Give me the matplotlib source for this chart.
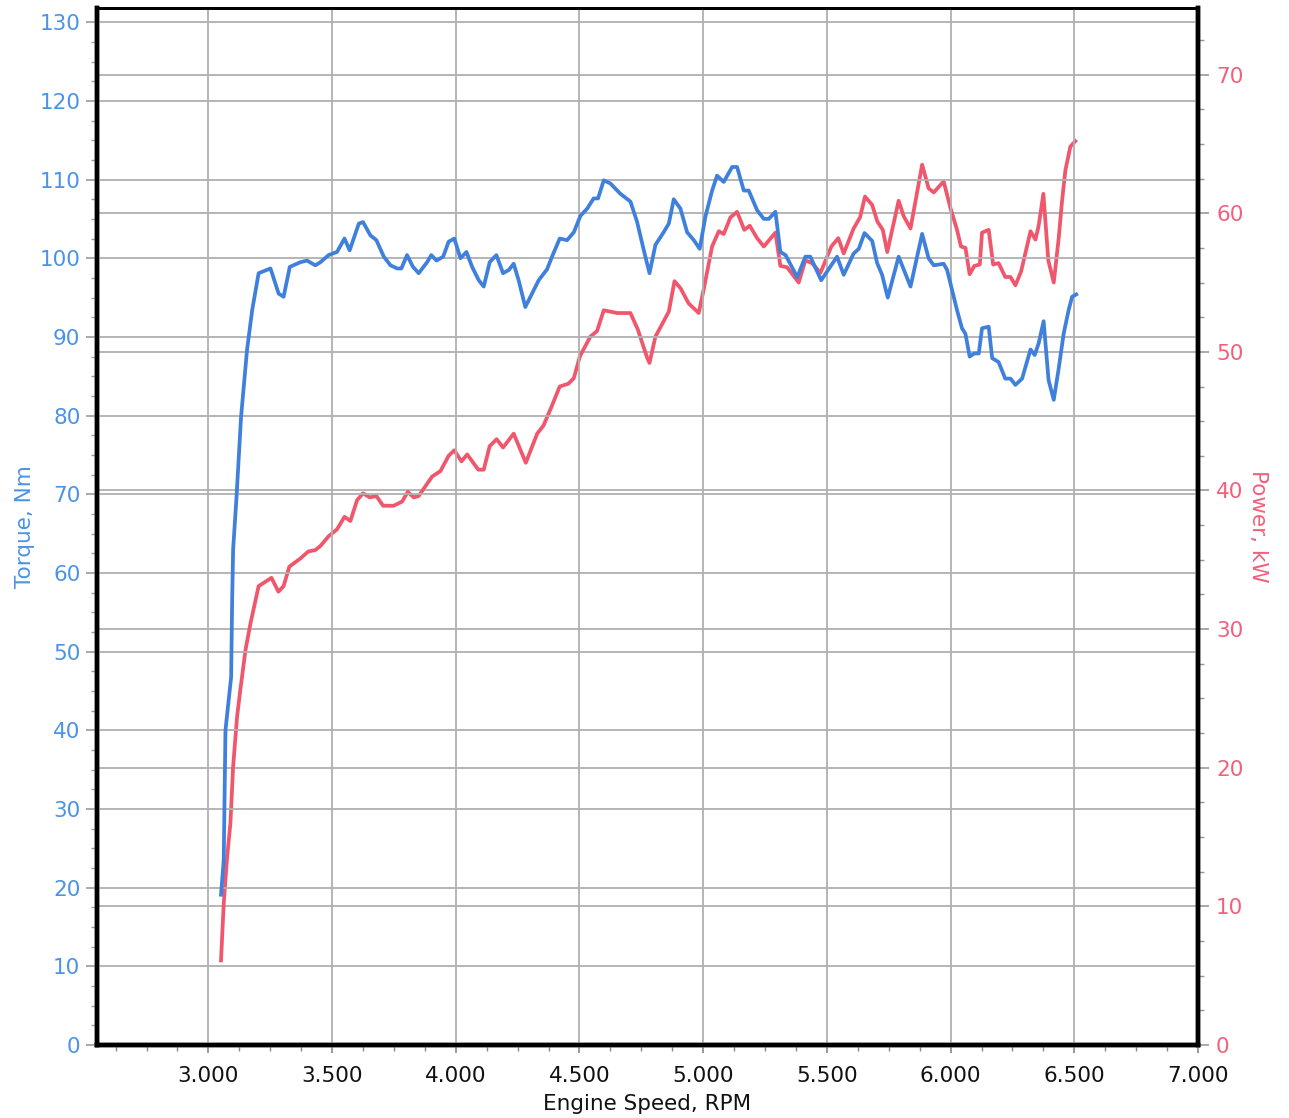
import numpy as np
import matplotlib
matplotlib.use("Agg")
import matplotlib.pyplot as plt
from matplotlib.ticker import MultipleLocator, FuncFormatter

# dyno run: engine speed (RPM) vs torque (Nm)
rpm_torque = [3051, 3062, 3069, 3092, 3096, 3100, 3113, 3132, 3156, 3177, 3203, 3251, 3284, 3304,
              3329, 3372, 3399, 3432, 3453, 3486, 3520, 3550, 3571, 3608, 3625, 3655, 3679, 3709,
              3736, 3763, 3780, 3803, 3827, 3850, 3884, 3901, 3922, 3949, 3971, 3994, 4019, 4043,
              4066, 4093, 4113, 4137, 4164, 4191, 4214, 4234, 4254, 4281, 4308, 4335, 4369, 4389,
              4420, 4450, 4477, 4504, 4531, 4557, 4575, 4598, 4625, 4665, 4706, 4733, 4760, 4783,
              4807, 4840, 4861, 4881, 4908, 4935, 4962, 4986, 5009, 5036, 5056, 5083, 5117, 5137,
              5164, 5184, 5218, 5245, 5265, 5292, 5312, 5333, 5380, 5413, 5433, 5477, 5541, 5568,
              5608, 5629, 5652, 5683, 5703, 5723, 5746, 5790, 5838, 5885, 5911, 5932, 5972, 5986,
              6026, 6046, 6060, 6077, 6096, 6114, 6127, 6154, 6168, 6194, 6221, 6242, 6262, 6289,
              6323, 6340, 6356, 6376, 6396, 6417, 6437, 6457, 6477, 6491, 6508]
torque = [19.1, 23.5, 40.0, 46.8, 56.5, 63.0, 69.3, 79.8, 88.3, 93.4, 98.1, 98.7, 95.5, 95.1,
          98.9, 99.5, 99.7, 99.1, 99.5, 100.4, 100.8, 102.5, 101.0, 104.4, 104.6, 102.9, 102.3, 100.2,
          99.1, 98.7, 98.7, 100.4, 98.9, 98.1, 99.5, 100.4, 99.7, 100.2, 102.1, 102.5, 100.0, 100.8,
          98.9, 97.2, 96.4, 99.5, 100.4, 98.1, 98.5, 99.3, 97.2, 93.8, 95.5, 97.2, 98.6, 100.2,
          102.5, 102.3, 103.3, 105.4, 106.3, 107.6, 107.6, 109.9, 109.5, 108.2, 107.2, 104.6, 101.0, 98.1,
          101.7, 103.3, 104.4, 107.5, 106.3, 103.3, 102.3, 101.2, 105.3, 108.6, 110.5, 109.7, 111.6, 111.6,
          108.6, 108.6, 106.1, 105.0, 105.0, 105.9, 100.8, 100.4, 97.6, 100.2, 100.2, 97.2, 100.2, 97.9,
          100.6, 101.2, 103.2, 102.2, 99.4, 97.9, 95.0, 100.2, 96.4, 103.1, 100.0, 99.1, 99.3, 98.5,
          93.4, 91.1, 90.4, 87.5, 87.9, 87.9, 91.1, 91.3, 87.3, 86.8, 84.7, 84.7, 83.9, 84.7,
          88.4, 87.7, 89.2, 92.0, 84.5, 82.0, 86.0, 90.4, 93.4, 95.1, 95.4]

# same run: engine speed (RPM) vs power (kW)
rpm_power = [3051, 3062, 3076, 3089, 3100, 3116, 3129, 3150, 3170, 3203, 3255, 3283, 3304, 3327,
             3372, 3404, 3432, 3453, 3486, 3520, 3550, 3574, 3601, 3625, 3652, 3679, 3706, 3749,
             3783, 3806, 3830, 3850, 3904, 3938, 3971, 3994, 4023, 4046, 4091, 4113, 4137, 4165,
             4191, 4234, 4283, 4329, 4355, 4386, 4420, 4455, 4477, 4502, 4544, 4571, 4598, 4652,
             4706, 4736, 4773, 4783, 4807, 4840, 4861, 4884, 4908, 4941, 4982, 5002, 5036, 5063,
             5083, 5110, 5137, 5166, 5188, 5218, 5245, 5292, 5312, 5339, 5386, 5413, 5440, 5474,
             5518, 5546, 5568, 5608, 5634, 5654, 5683, 5704, 5726, 5744, 5790, 5810, 5838, 5885,
             5911, 5932, 5972, 5999, 6026, 6042, 6060, 6077, 6096, 6118, 6127, 6154, 6172, 6194,
             6221, 6242, 6262, 6285, 6323, 6343, 6356, 6375, 6395, 6417, 6437, 6450, 6464, 6484,
             6504]
power = [6.1, 10.2, 13.6, 16.0, 20.1, 23.7, 25.6, 28.5, 30.4, 33.1, 33.7, 32.7, 33.1, 34.5,
         35.1, 35.6, 35.7, 36.0, 36.7, 37.2, 38.1, 37.8, 39.3, 39.8, 39.5, 39.6, 38.9, 38.9,
         39.2, 39.9, 39.5, 39.6, 41.0, 41.4, 42.5, 42.9, 42.1, 42.6, 41.5, 41.5, 43.2, 43.7,
         43.1, 44.1, 42.0, 44.1, 44.7, 46.0, 47.5, 47.7, 48.1, 49.7, 51.1, 51.5, 53.0, 52.8,
         52.8, 51.6, 49.6, 49.2, 51.1, 52.2, 52.9, 55.1, 54.6, 53.5, 52.8, 54.5, 57.6, 58.7,
         58.5, 59.7, 60.1, 58.8, 59.1, 58.2, 57.6, 58.6, 56.2, 56.1, 55.0, 56.6, 56.4, 55.7,
         57.6, 58.2, 57.1, 58.9, 59.7, 61.2, 60.6, 59.4, 58.8, 57.2, 60.9, 59.8, 58.9, 63.5,
         61.8, 61.5, 62.3, 60.4, 58.8, 57.6, 57.5, 55.6, 56.2, 56.3, 58.6, 58.8, 56.3, 56.4,
         55.4, 55.4, 54.8, 55.8, 58.7, 58.1, 59.1, 61.4, 56.6, 55.0, 58.2, 60.8, 63.1, 64.8,
         65.2]

blue = "#3f80dd"
red = "#f0566c"
blue_txt = "#4b93e6"
red_txt = "#f2607a"
grid_c = "#b0b0b0"

plt.rcParams["font.family"] = "DejaVu Sans"

fig = plt.figure(figsize=(12.89, 11.18), dpi=100)
ax1 = fig.add_axes([0.0753, 0.0653, 0.8541, 0.9275])
ax2 = ax1.twinx()

ax1.set_xlim(2550, 7000)
ax1.set_ylim(0, 131.8)
ax2.set_ylim(0, 74.8)

# grid: vertical every 500 rpm, horizontal for both scales
ax1.xaxis.set_major_locator(MultipleLocator(500))
ax1.xaxis.set_minor_locator(MultipleLocator(125))
ax1.yaxis.set_major_locator(MultipleLocator(10))
ax1.yaxis.set_minor_locator(MultipleLocator(2.5))
ax2.yaxis.set_major_locator(MultipleLocator(10))
ax2.yaxis.set_minor_locator(MultipleLocator(2.5))
ax1.grid(True, which="major", color=grid_c, lw=1.3)
ax2.grid(True, which="major", axis="y", color=grid_c, lw=1.3)
ax1.set_axisbelow(True)
ax2.set_axisbelow(True)

ax2.plot(rpm_power, power, color=red, lw=2.7, solid_joinstyle="round")
ax1.plot(rpm_torque, torque, color=blue, lw=2.7, solid_joinstyle="round")

# torque line above the twin axis
ax1.set_zorder(ax2.get_zorder() + 1)
ax1.patch.set_visible(False)

ax1.xaxis.set_major_formatter(FuncFormatter(lambda v, p: f"{int(v):,}".replace(",", ".")))
ax1.set_xticks([3000, 3500, 4000, 4500, 5000, 5500, 6000, 6500, 7000])

ax1.tick_params(axis="x", which="major", length=6, width=1.2, color="#888888",
                labelsize=15.5, pad=9, labelcolor="#111111")
ax1.tick_params(axis="x", which="minor", length=4, width=1, color="#888888")
ax1.tick_params(axis="y", which="major", length=8, width=1.2, color="#999999",
                labelsize=15.5, pad=4, labelcolor=blue_txt)
ax1.tick_params(axis="y", which="minor", length=4, width=1, color="#999999")
ax2.tick_params(axis="y", which="major", length=8, width=1.2, color="#999999",
                labelsize=15.5, pad=5, labelcolor=red_txt)
ax2.tick_params(axis="y", which="minor", length=4, width=1, color="#999999")

for ax in (ax1, ax2):
    for side in ("left", "right", "bottom"):
        ax.spines[side].set_linewidth(3.2)
        ax.spines[side].set_color("black")
    ax.spines["top"].set_linewidth(2)
    ax.spines["top"].set_color("black")

ax1.set_xlabel("Engine Speed, RPM", fontsize=15.5, color="#111111", labelpad=6)
ax1.set_ylabel("Torque, Nm", fontsize=15.5, color=blue_txt, labelpad=3)
ax2.set_ylabel("Power, kW", fontsize=15.5, color=red_txt, rotation=270, labelpad=18)

fig.savefig("out.png", dpi=100, facecolor="white")
